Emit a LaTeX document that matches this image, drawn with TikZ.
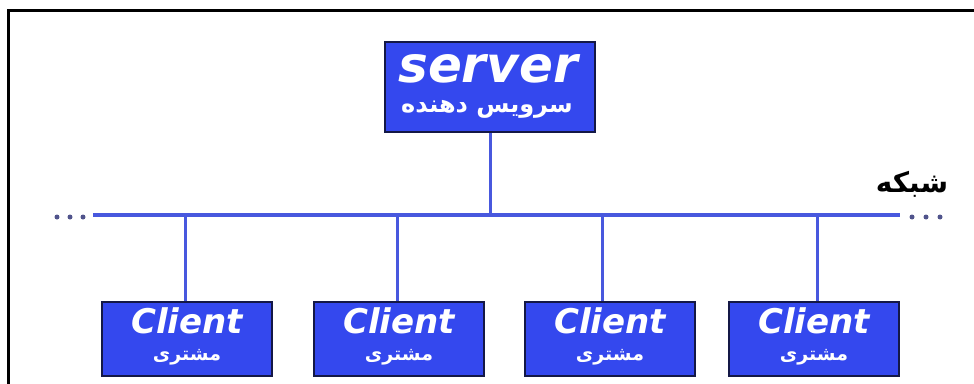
\documentclass[tikz,border=0pt]{standalone}
\usepackage{fontspec}
\setmainfont{DejaVu Sans}
\newfontfamily\latinbi{DejaVu Sans}[BoldItalicFont={* Bold Oblique}]
\newfontfamily\fa[Script=Arabic]{DejaVu Sans}
\TeXXeTstate=1
\definecolor{boxblue}{RGB}{52,72,238}
\definecolor{boxedge}{RGB}{20,24,70}
\definecolor{linkblue}{RGB}{72,88,222}
\definecolor{dotgray}{RGB}{80,84,140}
\begin{document}
\begin{tikzpicture}[x=1pt,y=-1pt,
  boxnode/.style={draw=boxedge,line width=2pt,fill=boxblue,text=white,inner sep=0pt,anchor=north west},
  link/.style={draw=linkblue,line width=3pt},
  busline/.style={draw=linkblue,line width=3.5pt},
  busdot/.style={circle,fill=dotgray,inner sep=0pt,minimum size=5pt}]
\useasboundingbox (0,0) rectangle (974,383);
\fill[white] (0,0) rectangle (974,383);
\draw[line width=3pt,black] (8,384) -- (8,10) -- (975,10);
% server
\node[boxnode,minimum width=210pt,minimum height=90pt] (server) at (384,41) {};
\node[text=white,inner sep=0pt] (servertxt) at (488,69) {\latinbi\bfseries\itshape\fontsize{50}{50}\selectfont server};
\node[text=white,inner sep=0pt] (serverfa) at (487,109) {\fa\bfseries\fontsize{24}{24}\selectfont\beginR سرویس دهنده\endR};
% bus
\coordinate (busL) at (93,215);
\coordinate (busR) at (900,215);
\draw[busline] (busL) -- (busR);
\node[busdot] (dl1) at (57,217) {};
\node[busdot] (dl2) at (70,217) {};
\node[busdot] (dl3) at (83,217) {};
\node[busdot] (dr1) at (912,217) {};
\node[busdot] (dr2) at (926,217) {};
\node[busdot] (dr3) at (940,217) {};
\node[inner sep=0pt,text=black] (net) at (912,184) {\fa\bfseries\fontsize{28}{28}\selectfont\beginR شبکه\endR};
\draw[link] (server.south) -- (server.south |- busL);
% clients
\foreach \i/\x/\j in {1/101/185,2/313/397,3/524/602,4/728/817}{
  \node[boxnode,minimum width=170pt,minimum height=74pt] (c\i) at (\x,301) {};
  \node[text=white,inner sep=0pt] (c\i t) at ([yshift=-20pt]c\i.north) {\latinbi\bfseries\itshape\fontsize{34}{34}\selectfont Client};
  \node[text=white,inner sep=0pt] (c\i f) at ([yshift=-56pt]c\i.north) {\fa\bfseries\fontsize{19}{19}\selectfont\beginR مشتری\endR};
  \coordinate (j\i) at (\j,215);
  \draw[link] (j\i) -- (j\i |- c\i.north);
}
\end{tikzpicture}
\end{document}
